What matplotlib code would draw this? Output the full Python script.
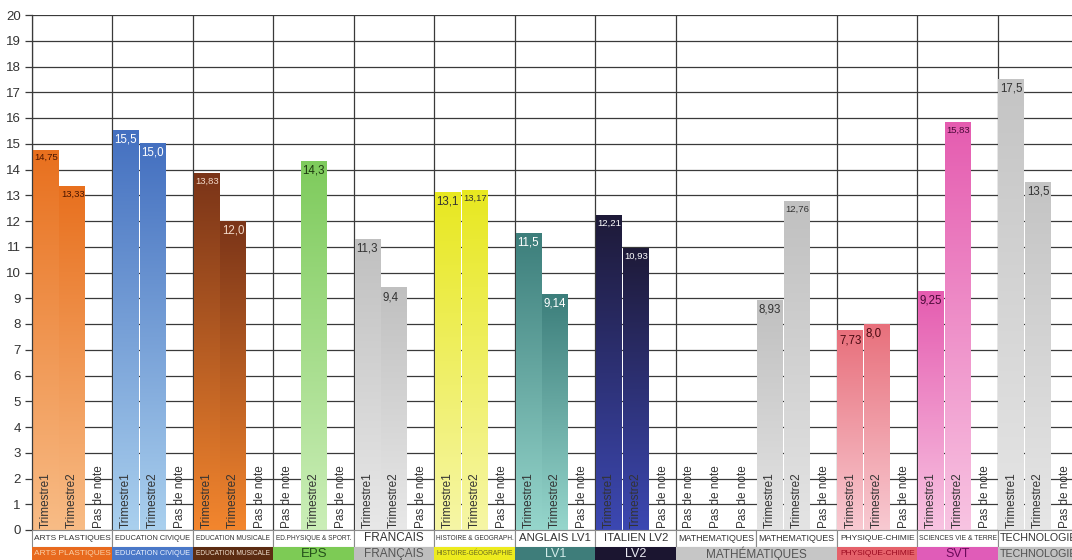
import numpy as np
import matplotlib
matplotlib.use('Agg')
import matplotlib.pyplot as plt
from matplotlib.colors import LinearSegmentedColormap
from matplotlib.patches import Rectangle

plt.rcParams['font.family'] = ['Liberation Sans', 'DejaVu Sans']

# ---- data ----
matieres = ["ARTS PLASTIQUES", "EDUCATION CIVIQUE", "EDUCATION MUSICALE",
            "ED.PHYSIQUE & SPORT.", "FRANCAIS", "HISTOIRE & GEOGRAPH.",
            "ANGLAIS LV1", "ITALIEN LV2", "MATHEMATIQUES", "MATHEMATIQUES",
            "PHYSIQUE-CHIMIE", "SCIENCES VIE & TERRE", "TECHNOLOGIE"]
trimestre1 = [14.75, 15.5, 13.83, None, 11.3, 13.1, 11.5, 12.21, None, 8.93, 7.73, 9.25, 17.5]
trimestre2 = [13.33, 15.0, 12.0, 14.3, 9.4, 13.17, 9.14, 10.93, None, 12.76, 8.0, 15.83, 13.5]

categories = ["ARTS PLASTIQUES", "EDUCATION CIVIQUE", "EDUCATION MUSICALE", "EPS",
              "FRANÇAIS", "HISTOIRE-GÉOGRAPHIE", "LV1", "LV2", "MATHÉMATIQUES",
              "PHYSIQUE-CHIMIE", "SVT", "TECHNOLOGIE"]
categorie_nb = [1, 1, 1, 1, 1, 1, 1, 1, 2, 1, 1, 1]

# ---- styles ----
bar_colors = [("#E8701E", "#F8BC86"), ("#4470C0", "#AAD0EE"), ("#7A3418", "#F3862E"),
              ("#7ECB5C", "#CBEEB8"), ("#C0C0C0", "#E8E8E8"), ("#E8E820", "#F6F6A6"),
              ("#3C7E7B", "#96D6CC"), ("#1E1A38", "#3C48B2"), ("#C0C0C0", "#E4E4E4"),
              ("#C0C0C0", "#E4E4E4"), ("#E8707C", "#F8CAD2"), ("#E55CB0", "#F8C4E2"),
              ("#C4C4C4", "#E6E6E6")]
value_colors = ["#4A1500", "white", "#F2D8C8", "#1E3A10", "#333333", "#333333",
                "white", "white", "#333333", "#333333", "#4A0A12", "#4A0A38", "#333333"]
haut_sizes = [6.0, 5.3, 4.8, 4.7, 8.5, 4.7, 8.2, 8.2, 6.4, 6.4, 6.0, 4.9, 7.7]
cat_fill = ["#E86A1E", "#4A78C8", "#5C2C12", "#7DCB55", "#BEBEBE", "#EDEB1E",
            "#3E7D7A", "#1B1530", "#C6C6C6", "#E5616A", "#E05CB8", "#C2C2C2"]
cat_text = ["#FAD0A8", "#EEF4FF", "#F2E2D2", "#24501A", "#555555", "#6A6A20",
            "#D4ECEA", "#ECECF4", "#555555", "#9A0A20", "#6A0A5A", "#505050"]
cat_sizes = [6.0, 5.3, 4.8, 9.5, 8.5, 4.7, 9.0, 9.0, 8.5, 6.0, 9.0, 7.7]


def fmt(v):
    if abs(v * 10 - round(v * 10)) > 1e-6:
        s = f"{v:.2f}"
    else:
        s = f"{v:.1f}"
    return s.replace(".", ",")


fig = plt.figure(figsize=(10.72, 5.6), dpi=100)
ax = fig.add_axes([32 / 1072, 30 / 560, 1040 / 1072, 515 / 560])

# grid
for yv in range(0, 21):
    ax.axhline(yv, color="#3A3A3A", lw=0.9, zorder=1)
bounds = np.concatenate([[0], np.cumsum(categorie_nb)]) * 3
for xb in bounds:
    ax.plot([xb, xb], [0, 20], color="#3A3A3A", lw=0.9, zorder=1)

# bars
bw = 0.96
grad = np.linspace(0, 1, 256).reshape(-1, 1)
for g in range(len(matieres)):
    cmap = LinearSegmentedColormap.from_list("c%d" % g, [bar_colors[g][1], bar_colors[g][0]])
    vals = [trimestre1[g], trimestre2[g], None]
    names = ["Trimestre1", "Trimestre2", "Pas de note"]
    for k in range(3):
        x0 = g * 3 + k
        v = vals[k]
        if v is not None:
            ax.imshow(grad, extent=[x0 + 0.02, x0 + 0.02 + bw, 0, v], origin="lower",
                      aspect="auto", cmap=cmap, zorder=2, interpolation="bilinear")
            s = fmt(v)
            ax.text(x0 + 0.08, v - 0.12, s, ha="left", va="top",
                    fontsize=8.3 if len(s) <= 4 else 6.8, color=value_colors[g], zorder=4)
            lab = names[k]
        else:
            lab = "Pas de note"
        ax.text(x0 + 0.5, 0.08, lab, rotation=90, ha="center", va="bottom",
                fontsize=8.5, color="#333333", zorder=4)

# lower strips
for g, name in enumerate(matieres):
    ax.add_patch(Rectangle((g * 3, -0.66), 3, 0.66, facecolor="white", edgecolor="#8A8A8A",
                           lw=0.8, clip_on=False, zorder=3))
    ax.text(g * 3 + 1.5, -0.33, name, ha="center", va="center", fontsize=haut_sizes[g],
            color="#333333", clip_on=False, zorder=4)

pos = 0
for c, name in enumerate(categories):
    w = categorie_nb[c] * 3
    ax.add_patch(Rectangle((pos, -1.3), w, 0.64, facecolor=cat_fill[c], edgecolor="none",
                           clip_on=False, zorder=3))
    ax.text(pos + w / 2, -0.92, name, ha="center", va="center", fontsize=cat_sizes[c],
            color=cat_text[c], clip_on=False, zorder=4)
    pos += w

ax.set_xlim(0, 38.76)
ax.set_ylim(0, 20)
ax.set_yticks(range(0, 21))
ax.set_xticks([])
ax.tick_params(axis="y", length=5, width=0.9, color="#3A3A3A", labelsize=9.5,
               labelcolor="#333333", pad=3)
for sp in ["top", "right", "bottom"]:
    ax.spines[sp].set_visible(False)
ax.spines["left"].set_color("#3A3A3A")
ax.spines["left"].set_linewidth(0.9)

fig.savefig("out.png", dpi=100)
